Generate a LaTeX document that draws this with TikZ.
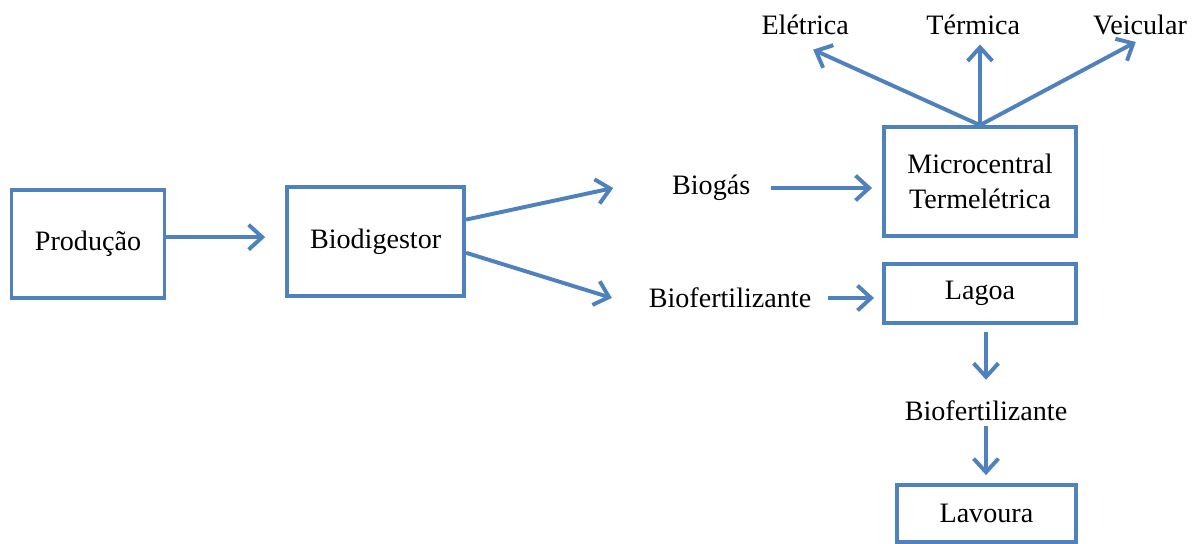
\documentclass[tikz,border=0pt]{standalone}
\usepackage{fontspec}
\setmainfont{Liberation Serif}
\usepackage{tikz}
\usetikzlibrary{positioning, arrows.meta}
\definecolor{officeblue}{HTML}{4F81BD}

\begin{document}
\begin{tikzpicture}[
    box/.style={draw=officeblue, line width=2.8pt, align=center, font=\fontsize{20}{25}\selectfont},
    lbl/.style={font=\fontsize{20}{25}\selectfont},
    flow/.style={officeblue, line width=2.8pt, -{Straight Barb[length=0.34cm, width=0.62cm]}}
]
    \useasboundingbox (0,0) rectangle (30,13.6);
    % Boxes
    \node[box, minimum width=3.825cm, minimum height=2.7cm] (prod) at (2.2,7.5) {Produção};
    \node[box, minimum width=4.425cm, minimum height=2.725cm] (biodig) at (9.39,7.56) {Biodigestor};
    \node[box, minimum width=4.8cm, minimum height=2.725cm] (micro) at (24.5,9.06) {Microcentral\\Termelétrica};
    \node[box, minimum width=4.8cm, minimum height=1.475cm] (lagoa) at (24.5,6.26) {Lagoa};
    \node[box, minimum width=4.475cm, minimum height=1.425cm] (lavoura) at (24.66,0.76) {Lavoura};
    % Labels
    \node[lbl] (biogas) at (17.78,8.9) {Biogás};
    \node[lbl] (biofertA) at (18.25,6.15) {Biofertilizante};
    \node[lbl] (biofertB) at (24.65,3.33) {Biofertilizante};
    \node[lbl] (eletrica) at (20.13,12.98) {Elétrica};
    \node[lbl] (termica) at (24.33,12.98) {Térmica};
    \node[lbl] (veicular) at (28.5,12.98) {Veicular};
    % Arrows
    \draw[flow, shorten >=0.5cm] ([yshift=0.17cm]prod.east) -- ([yshift=0.17cm]prod.east -| biodig.west);
    \draw[flow] ([yshift=0.55cm]biodig.east) -- ([xshift=-1.35cm]biogas.west);
    \draw[flow] ([yshift=-0.28cm]biodig.east) -- ([xshift=-0.8cm]biofertA.west);
    \draw[flow, shorten <=0.4cm, shorten >=0.25cm] (biogas.east) -- (biogas.east -| micro.west);
    \draw[flow, shorten <=0.3cm, shorten >=0.2cm] (biofertA.east) -- (biofertA.east -| lagoa.west);
    % Uses of the biogas
    \draw[flow] (micro.north) -- ([shift={(0.2cm,-0.25cm)}]eletrica.south);
    \draw[flow, shorten >=0.12cm] (micro.north) -- (micro.north |- termica.south);
    \draw[flow, shorten >=0.12cm] (micro.north) -- (veicular.south);
    % Lagoa to lavoura
    \draw[flow, shorten <=0.18cm, shorten >=0.4cm] (biofertB.north |- lagoa.south) -- (biofertB.north);
    \draw[flow, shorten >=0.2cm] (biofertB.south) -- (biofertB.south |- lavoura.north);
\end{tikzpicture}
\end{document}
